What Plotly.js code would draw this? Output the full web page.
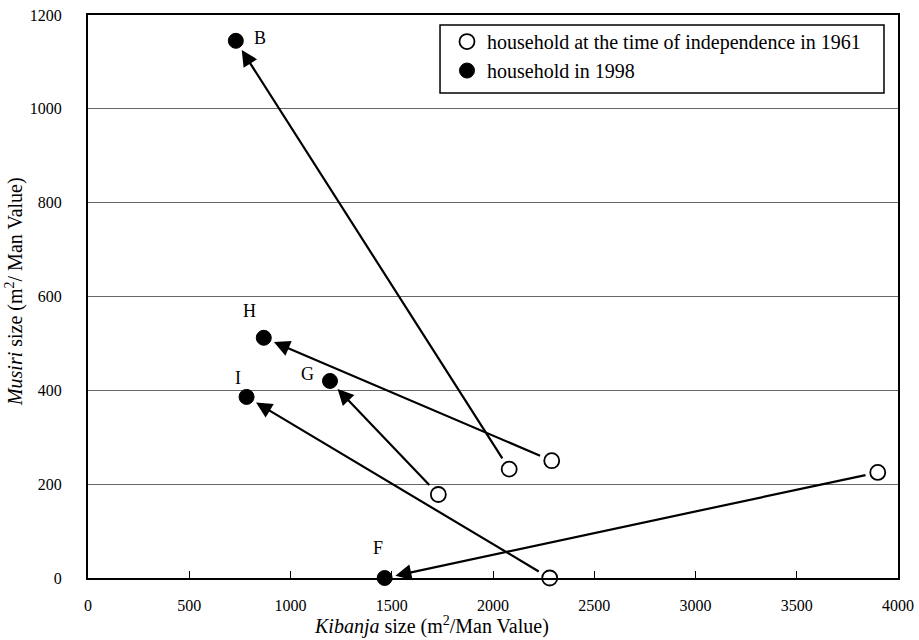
<!DOCTYPE html>
<html>
<head>
<meta charset="utf-8">
<script src="https://cdn.plot.ly/plotly-3.0.1.min.js"></script>
<style>html,body{margin:0;padding:0;background:#fff;}#chart{width:919px;height:640px;}</style>
</head>
<body>
<div id="chart"></div>
<script>
// Data
const households = ['B', 'H', 'G', 'I', 'F'];
const kibanja1961 = [2080, 2290, 1730, 2280, 3900];
const musiri1961 = [232, 250, 178, 0, 225];
const kibanja1998 = [730, 868, 1195, 783, 1465];
const musiri1998 = [1145, 512, 420, 386, 0];
const xTicks = [0, 500, 1000, 1500, 2000, 2500, 3000, 3500, 4000];
const yTicks = [0, 200, 400, 600, 800, 1000, 1200];
const xTitle = '<i>Kibanja</i> size (m<sup>2</sup>/Man Value)';
const yTitle = '<i>Musiri</i> size (m<sup>2</sup>/ Man Value)';

const FONT = 'Liberation Serif';

// label offsets in px relative to the 1998 points
const labelShift = {
  B: [24, 3], H: [-14, 27], G: [-22, 7], I: [-9, 19], F: [-7, 30]
};

const traces = [
  {
    x: kibanja1961, y: musiri1961, mode: 'markers', type: 'scatter',
    name: 'household at the time of independence in 1961',
    marker: {symbol: 'circle', size: 15, color: '#ffffff', line: {color: '#000000', width: 1.8}},
    cliponaxis: false, hoverinfo: 'x+y'
  },
  {
    x: kibanja1998, y: musiri1998, mode: 'markers', type: 'scatter',
    name: 'household in 1998',
    marker: {symbol: 'circle', size: 15, color: '#000000', line: {color: '#000000', width: 1}},
    cliponaxis: false, hoverinfo: 'x+y'
  }
];

const annotations = [];
households.forEach((h, i) => {
  annotations.push({
    x: kibanja1998[i], y: musiri1998[i], xref: 'x', yref: 'y',
    ax: kibanja1961[i], ay: musiri1961[i], axref: 'x', ayref: 'y',
    text: '', showarrow: true, arrowhead: 2, arrowsize: 1.45, arrowwidth: 2.2,
    arrowcolor: '#000000', standoff: 11, startstandoff: 11
  });
  annotations.push({
    x: kibanja1998[i], y: musiri1998[i], xref: 'x', yref: 'y',
    text: h, showarrow: false, xshift: labelShift[h][0], yshift: labelShift[h][1],
    font: {family: FONT, size: 18, color: '#000000'}
  });
});
// axis titles
annotations.push({
  xref: 'paper', yref: 'paper', x: 0.4235, y: -0.085, xanchor: 'center', yanchor: 'middle',
  text: xTitle, showarrow: false, font: {family: FONT, size: 20, color: '#000000'}
});
annotations.push({
  xref: 'paper', yref: 'paper', x: -0.09, y: 0.508, xanchor: 'center', yanchor: 'middle',
  text: yTitle, textangle: -90, showarrow: false, font: {family: FONT, size: 20, color: '#000000'}
});

const layout = {
  width: 919, height: 640,
  margin: {l: 88, r: 21, t: 15, b: 62},
  paper_bgcolor: '#ffffff', plot_bgcolor: '#ffffff',
  showlegend: true,
  legend: {
    x: 0.4432, y: 0.9875, xanchor: 'left', yanchor: 'top',
    bgcolor: 'rgba(0,0,0,0)', borderwidth: 0,
    font: {family: FONT, size: 20, color: '#000000'},
    itemwidth: 30, tracegroupgap: 0
  },
  shapes: [{
    type: 'rect', xref: 'paper', yref: 'paper',
    x0: 0.4346, x1: 0.9827, y0: (578 - 93) / 563, y1: (578 - 25) / 563,
    line: {color: '#000000', width: 1.5}, fillcolor: '#ffffff', layer: 'above'
  }],
  xaxis: {
    range: [0, 4000], tickvals: xTicks, ticktext: xTicks.map(String),
    showgrid: false, zeroline: false,
    showline: true, linecolor: '#000000', linewidth: 2, mirror: true,
    ticks: 'inside', ticklen: 7, tickcolor: '#000000', tickwidth: 1,
    ticklabelstandoff: 12,
    tickfont: {family: FONT, size: 16, color: '#000000'}
  },
  yaxis: {
    range: [0, 1200], tickvals: yTicks, ticktext: yTicks.map(String),
    showgrid: true, gridcolor: '#666666', gridwidth: 1, zeroline: false,
    showline: true, linecolor: '#000000', linewidth: 2, mirror: true,
    ticks: '', tickfont: {family: FONT, size: 16, color: '#000000'},
    ticklabelstandoff: 21
  },
  annotations: annotations
};

Plotly.newPlot('chart', traces, layout, {displayModeBar: false, staticPlot: true});
</script>
</body>
</html>
